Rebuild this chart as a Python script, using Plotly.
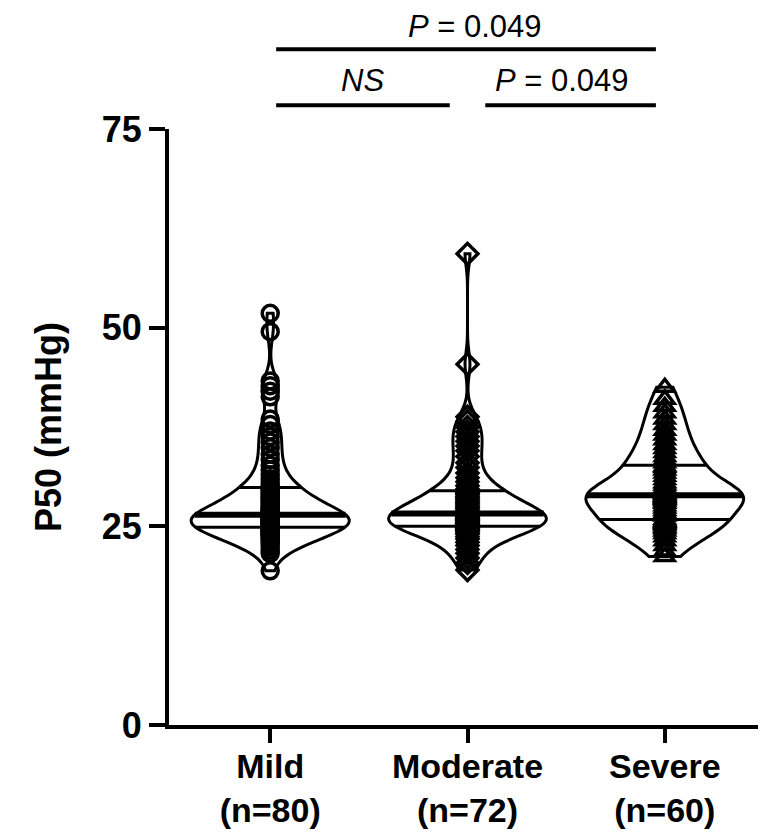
import numpy as np
import plotly.graph_objects as go

categories = ["Mild", "Moderate", "Severe"]
tick_labels = ["Mild<br>(n=80)", "Moderate<br>(n=72)", "Severe<br>(n=60)"]

mild = [19.4, 21.6, 22.0, 22.4, 22.7, 23.0, 23.2, 23.4, 23.6, 23.8, 23.9, 24.0, 24.1, 24.2, 24.3, 24.4, 24.5, 24.6, 24.7, 24.8,
        24.9, 25.0, 25.1, 25.2, 25.3, 25.4, 25.5, 25.6, 25.7, 25.8, 25.9, 26.0, 26.0, 26.1, 26.2, 26.2, 26.3, 26.3, 26.4, 26.4,
        26.5, 26.6, 26.7, 26.8, 26.9, 27.0, 27.2, 27.4, 27.6, 27.8, 28.0, 28.2, 28.4, 28.6, 28.8, 29.0, 29.2, 29.4, 29.6, 29.8,
        30.1, 30.5, 31.0, 31.5, 32.1, 32.7, 33.4, 34.1, 34.9, 35.6, 36.3, 37.0, 37.8, 38.5, 41.3, 42.0, 42.7, 43.3, 49.5, 51.8]

moderate = [19.5, 20.4, 21.0, 21.6, 22.1, 22.6, 23.0, 23.4, 23.7, 24.0, 24.2, 24.4, 24.5, 24.6, 24.7, 24.8, 24.9, 25.0,
            25.0, 25.1, 25.2, 25.3, 25.4, 25.5, 25.6, 25.7, 25.8, 25.9, 26.0, 26.1, 26.2, 26.3, 26.4, 26.5, 26.5, 26.6,
            26.6, 26.7, 26.8, 26.9, 27.0, 27.2, 27.4, 27.6, 27.8, 28.0, 28.2, 28.4, 28.6, 28.8, 29.0, 29.2, 29.3, 29.4,
            29.7, 30.1, 30.6, 31.1, 31.7, 32.4, 33.0, 33.8, 34.5, 35.1, 35.7, 36.3, 36.9, 37.5, 38.2, 38.8, 45.4, 59.3]

severe = [21.2, 21.9, 22.6, 23.2, 23.7, 24.1, 24.4, 24.7, 24.9, 25.1, 25.3, 25.4, 25.5, 25.6, 25.7,
          25.9, 26.3, 26.7, 27.0, 27.3, 27.6, 27.9, 28.1, 28.3, 28.4, 28.5, 28.6, 28.7, 28.8, 28.85,
          29.0, 29.1, 29.2, 29.3, 29.5, 29.7, 29.9, 30.2, 30.5, 30.9, 31.3, 31.7, 32.1, 32.4, 32.6,
          33.0, 33.4, 33.8, 34.3, 34.8, 35.3, 35.9, 36.5, 37.1, 37.8, 38.5, 39.3, 40.1, 41.0, 42.5]

series = [mild, moderate, severe]
symbols = ["circle-open", "diamond-open", "triangle-up-open"]
bandwidths = [1.5, 1.5, 1.7]

y_ticks = [0, 25, 50, 75]

# significance annotations: (x0, x1, y_paper, label, label_x, label_y)
sig_bars = [
    (0.03, 1.955, 1.134, "<i>P</i> = 0.049", 1.04, 1.172),
    (0.03, 0.91, 1.040, "<i>NS</i>", 0.47, 1.082),
    (1.09, 1.955, 1.040, "<i>P</i> = 0.049", 1.48, 1.082),
]

VW = 0.8  # violin width (category units)
FONT = "Liberation Sans, Arial, sans-serif"

fig = go.Figure()
shapes = []


def kde(ys, data, bw):
    d = np.asarray(data)[None, :]
    ys = np.asarray(ys)[:, None]
    return np.exp(-0.5 * ((ys - d) / bw) ** 2).sum(axis=1)


for i, (cat, vals, sym, bw) in enumerate(zip(categories, series, symbols, bandwidths)):
    fig.add_trace(go.Violin(
        x=[cat] * len(vals), y=vals, name=cat,
        line=dict(color="black", width=3),
        fillcolor="rgba(0,0,0,0)",
        points="all", jitter=0, pointpos=0,
        marker=dict(symbol=sym, size=16, color="black",
                    line=dict(color="black", width=3.5)),
        spanmode="hard", scalemode="width", width=VW, bandwidth=bw,
        box_visible=False, meanline_visible=False,
        showlegend=False, hoverinfo="y",
    ))
    arr = np.asarray(vals)
    grid = np.linspace(arr.min(), arr.max(), 600)
    dmax = kde(grid, arr, bw).max()
    q1, med, q3 = np.percentile(arr, [25, 50, 75])
    for q, w in ((q1, 3), (med, 6), (q3, 3)):
        hw = VW / 2 * kde([q], arr, bw)[0] / dmax
        shapes.append(dict(type="line", xref="x", yref="y",
                           x0=i - hw, x1=i + hw, y0=q, y1=q,
                           line=dict(color="black", width=w), layer="above"))

annotations = []
for x0, x1, yp, label, lx, ly in sig_bars:
    shapes.append(dict(type="line", xref="x", yref="paper",
                       x0=x0, x1=x1, y0=yp, y1=yp,
                       line=dict(color="black", width=4)))
    annotations.append(dict(xref="x", yref="paper", x=lx, y=ly, text=label,
                            showarrow=False, xanchor="center", yanchor="middle",
                            font=dict(family=FONT, size=31, color="black")))

fig.update_layout(
    width=766, height=840,
    margin=dict(l=161, r=8, t=121, b=123),
    paper_bgcolor="white", plot_bgcolor="white",
    violinmode="overlay",
    shapes=shapes, annotations=annotations,
    font=dict(family=FONT, color="black"),
)
fig.update_xaxes(
    type="category", categoryorder="array", categoryarray=categories,
    tickvals=categories, ticktext=tick_labels,
    range=[-0.513, 2.513],
    showline=True, linecolor="black", linewidth=4,
    ticks="outside", ticklen=14, tickwidth=4, tickcolor="black",
    ticklabelstandoff=-6,
    tickfont=dict(family=FONT, size=34, color="black", weight="bold"),
    showgrid=False, zeroline=False,
)
fig.update_yaxes(
    range=[0, 75], tickvals=y_ticks,
    showline=True, linecolor="black", linewidth=4,
    ticks="outside", ticklen=16, tickwidth=4, tickcolor="black",
    tickfont=dict(family=FONT, size=36, color="black", weight="bold"),
    title=dict(text="P50 (mmHg)", standoff=30,
               font=dict(family=FONT, size=36, color="black", weight="bold")),
    showgrid=False, zeroline=False,
)

fig.write_html("out.html")
